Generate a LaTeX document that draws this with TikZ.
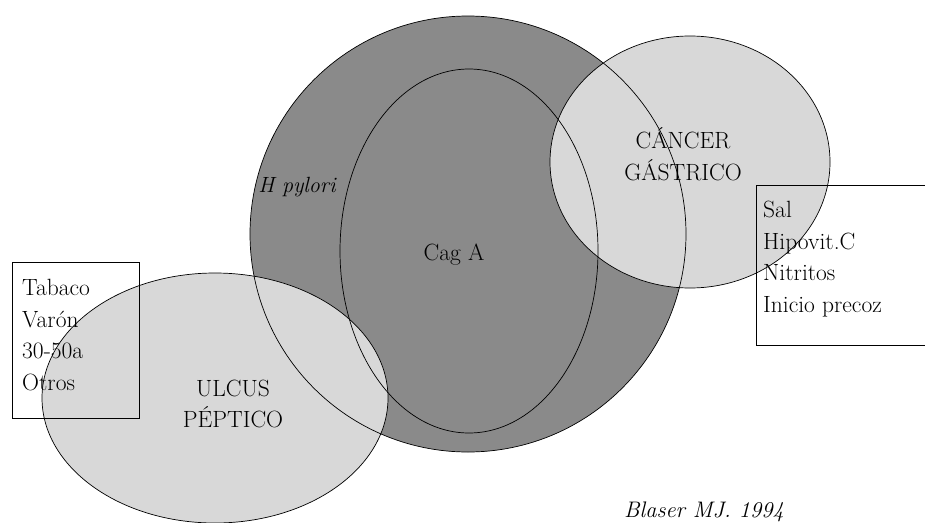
\documentclass[tikz,border=0pt]{standalone}
\usepackage{fontspec}
\usepackage{tikz}
\usetikzlibrary{positioning}
\definecolor{hpDark}{HTML}{8A8A8A}
\definecolor{hpLight}{HTML}{D8D8D8}

\begin{document}
\begin{tikzpicture}[x=1pt,y=-1pt,font=\fontsize{23.5}{31.5}\selectfont,
    setfill/.style={fill=hpLight},
    setline/.style={draw=black,line width=0.7pt},
    riskbox/.style={draw=black,line width=0.7pt},
    risktext/.style={inner sep=0pt,align=left,anchor=north west}]
  \clip (0,0) rectangle (925,522);
  % fills first, all outlines on top
  \fill[hpDark] (468,234) circle [radius=218pt];
  \fill[setfill] (215,398) ellipse [x radius=173pt,y radius=125pt];
  \fill[setfill] (690,162) ellipse [x radius=140pt,y radius=126pt];
  \draw[setline] (468,234) circle [radius=218pt];
  \draw[setline] (469,251) ellipse [x radius=129pt,y radius=182pt];
  \draw[setline] (215,398) ellipse [x radius=173pt,y radius=125pt];
  \draw[setline] (690,162) ellipse [x radius=140pt,y radius=126pt];

  \node (hpylori) at (297,187) {\itshape\fontsize{22}{26}\selectfont H pylori};
  \node (cagA) at (454,255) {Cag A};
  \node[align=center] (cancer) at (683,154) {CÁNCER\\GÁSTRICO};
  \node[align=center] (ulcus) at (233,404) {ULCUS\\PÉPTICO};

  % risk factor boxes (right one runs off the page)
  \draw[riskbox] (12,262) rectangle (139,418);
  \node[risktext] (ulcusRisk) at (22,279) {Tabaco\\Varón\\30-50a\\Otros};
  \draw[riskbox] (756,185) rectangle (940,345);
  \node[risktext] (cancerRisk) at (763,201) {Sal\\Hipovit.C\\Nitritos\\Inicio precoz};

  \node (source) at (704,512) {\itshape\fontsize{22.5}{26}\selectfont Blaser MJ. 1994};
\end{tikzpicture}
\end{document}
